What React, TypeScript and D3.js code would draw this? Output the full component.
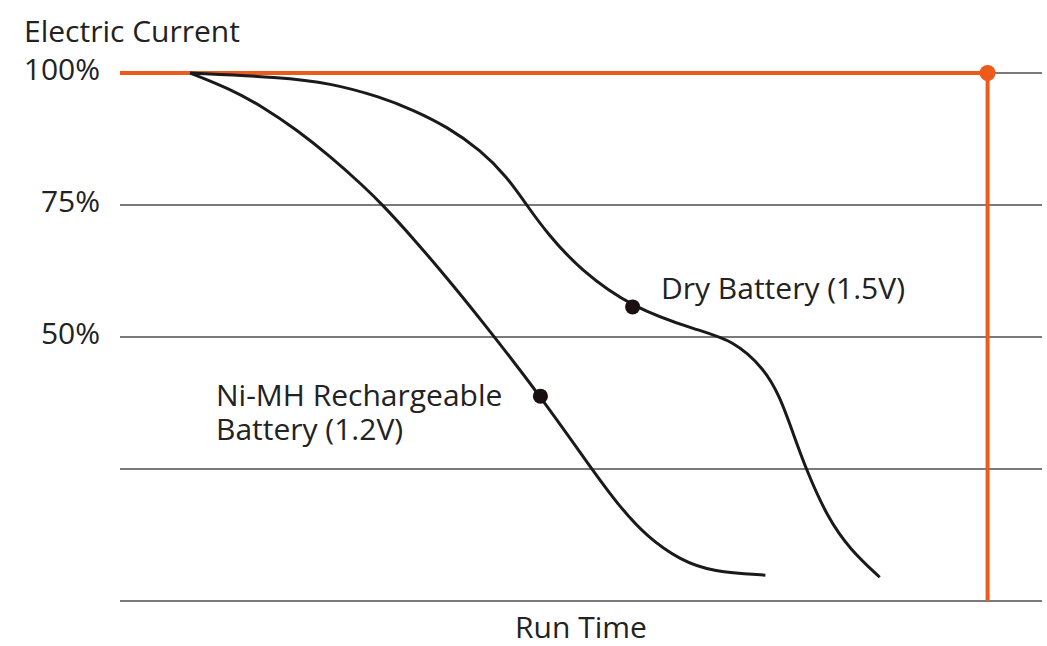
import React from 'react';
import * as d3 from 'd3';

// Run time (0-100, arbitrary units) vs electric current (%)
const nimhTime = [7.6, 11.9, 15.5, 19.2, 22.8, 26.4, 28.5, 31.8, 35.5, 39.1, 45.6, 51.0, 54.2, 57.2, 60.7, 64.3, 70.0];
const nimhCurrent = [100, 97.0, 93.6, 89.2, 84.2, 78.6, 75.0, 68.7, 61.1, 53.4, 38.8, 25.4, 17.8, 12.1, 7.8, 5.5, 4.9];

const dryTime = [7.6, 17.4, 22.8, 28.2, 31.8, 35.5, 39.1, 42.0, 44.1, 46.3, 49.9, 55.6, 62.6, 66.5, 69.9, 71.6, 73.0, 74.4, 76.7, 79.2, 82.4];
const dryCurrent = [100, 99.2, 98.1, 95.5, 93.0, 89.8, 85.4, 80.3, 75.0, 69.7, 62.7, 55.5, 51.3, 49.4, 44.0, 38.6, 31.8, 25.0, 15.9, 9.7, 4.5];

const gridValues = [100, 75, 50, 25, 0];
const tickLabels = ['100%', '75%', '50%', '', ''];

// marker positions (time, current)
const nimhMarker = [45.6, 38.8];
const dryMarker = [55.6, 55.7];
const fullLevel = 100;
const fullTime = 94.1;

const FONT = '"Open Sans", "Noto Sans", sans-serif';
const ORANGE = '#EE5A1C';
const TEXT = '#222';

export default function App() {
  const width = 1047;
  const height = 646;
  const margin = { left: 120, right: 5, top: 73, bottom: 45 };

  const x = d3.scaleLinear().domain([0, 100]).range([margin.left, width - margin.right]);
  const y = d3.scaleLinear().domain([0, 100]).range([height - margin.bottom, margin.top]);

  // basis smoothing irons out the reading noise in the hand-read points
  const line = d3.line<[number, number]>()
    .x(d => x(d[0]))
    .y(d => y(d[1]))
    .curve(d3.curveBasis);

  const nimh = nimhTime.map((t, i) => [t, nimhCurrent[i]] as [number, number]);
  const dry = dryTime.map((t, i) => [t, dryCurrent[i]] as [number, number]);

  return (
    <svg width={width} height={height} style={{ position: 'absolute', left: 0, top: 0, background: '#fff' }}>
      {/* gridlines */}
      {gridValues.map(v => (
        <line key={v} x1={x(0)} x2={x(100)} y1={y(v)} y2={y(v)} stroke="#7a7a7a" strokeWidth={2} />
      ))}
      {/* y tick labels */}
      {gridValues.map((v, i) => (
        <text key={'t' + v} x={100} y={y(v) + 7} textAnchor="end" fontFamily={FONT} fontSize={30} fill={TEXT}>
          {tickLabels[i]}
        </text>
      ))}
      <text x={24} y={42} fontFamily={FONT} fontSize={30} fill={TEXT}>Electric Current</text>
      <text x={581} y={638} textAnchor="middle" fontFamily={FONT} fontSize={30} fill={TEXT}>Run Time</text>

      {/* full-current reference */}
      <line x1={x(0)} x2={x(fullTime)} y1={y(fullLevel)} y2={y(fullLevel)} stroke={ORANGE} strokeWidth={4} />
      <line x1={x(fullTime)} x2={x(fullTime)} y1={y(fullLevel)} y2={y(0)} stroke={ORANGE} strokeWidth={4} />
      <circle cx={x(fullTime)} cy={y(fullLevel)} r={8} fill={ORANGE} />

      {/* discharge curves */}
      <path d={line(nimh) || ''} fill="none" stroke="#1a1a1a" strokeWidth={3} />
      <path d={line(dry) || ''} fill="none" stroke="#1a1a1a" strokeWidth={3} />

      <circle cx={x(nimhMarker[0])} cy={y(nimhMarker[1])} r={7.5} fill="#1a1010" />
      <circle cx={x(dryMarker[0])} cy={y(dryMarker[1])} r={7.5} fill="#1a1010" />

      <text x={661} y={299} fontFamily={FONT} fontSize={30} fill={TEXT}>Dry Battery (1.5V)</text>
      <text x={216} y={406} fontFamily={FONT} fontSize={30} fill={TEXT}>Ni-MH Rechargeable</text>
      <text x={216} y={440} fontFamily={FONT} fontSize={30} fill={TEXT}>Battery (1.2V)</text>
    </svg>
  );
}
